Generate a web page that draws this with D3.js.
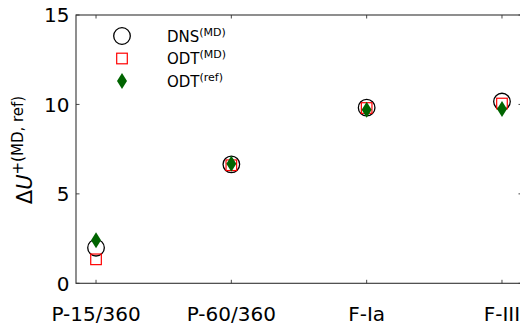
<!DOCTYPE html>
<html>
<head>
<meta charset="utf-8">
<script src="https://cdn.jsdelivr.net/npm/d3@7"></script>
<style>
  body { margin: 0; background: #fff; }
  text { font-family: 'DejaVu Sans', sans-serif; fill: #000; }
</style>
</head>
<body>
<script>
// chart data
const categories = ['P-15/360', 'P-60/360', 'F-Ia', 'F-III']
const dnsMD = [1.99, 6.65, 9.82, 10.16]
const odtMD = [1.34, 6.6, 9.8, 10.05]
const odtRef = [2.4, 6.68, 9.7, 9.74]
const yTicks = [0, 5, 10, 15]

const width = 520
const height = 329
const x0 = 76, x1 = 522, y0 = 283.3, y1 = 15

const svg = d3.select('body').append('svg')
    .attr('width', width)
    .attr('height', height)

const x = d3.scalePoint()
    .domain(categories)
    .range([x0, x1])
    .padding(0.148)

const y = d3.scaleLinear()
    .domain([0, 15])
    .range([y0, y1])

// spines
svg.append('rect')
    .attr('x', x0).attr('y', y1)
    .attr('width', x1 - x0).attr('height', y0 - y1)
    .attr('fill', 'none')
    .attr('stroke', '#333')
    .attr('stroke-width', 1.1)

// ticks, all pointing in
const tl = 3.5
const g = svg.append('g').attr('stroke', '#333').attr('stroke-width', 0.9)
categories.forEach(c => {
    g.append('line').attr('x1', x(c)).attr('x2', x(c)).attr('y1', y0).attr('y2', y0 - tl)
    g.append('line').attr('x1', x(c)).attr('x2', x(c)).attr('y1', y1).attr('y2', y1 + tl)
})
yTicks.forEach(v => {
    g.append('line').attr('x1', x0).attr('x2', x0 + tl).attr('y1', y(v)).attr('y2', y(v))
    g.append('line').attr('x1', x1).attr('x2', x1 - tl).attr('y1', y(v)).attr('y2', y(v))
})

svg.append('g').selectAll('text')
    .data(yTicks)
    .join('text')
    .attr('x', x0 - 6.5)
    .attr('y', d => y(d))
    .attr('dy', '0.36em')
    .attr('text-anchor', 'end')
    .attr('font-size', 20)
    .text(d => d)

svg.append('g').selectAll('text')
    .data(categories)
    .join('text')
    .attr('x', d => x(d))
    .attr('y', 321)
    .attr('text-anchor', 'middle')
    .attr('font-size', 20)
    .text(d => d)

// y label
const ylab = svg.append('text')
    .attr('transform', 'translate(32,150) rotate(-90)')
    .attr('text-anchor', 'middle')
    .attr('font-size', 21)
ylab.append('tspan').text('Δ')
ylab.append('tspan').attr('font-style', 'italic').text('U')
ylab.append('tspan').attr('font-size', 15).attr('dy', -9).text('+(MD, ref)')

// markers
const symCircle = d3.symbol().type(d3.symbolCircle).size(Math.PI * 8.3 * 8.3)
const pts = svg.append('g')

pts.selectAll('.dns')
    .data(dnsMD)
    .join('path')
    .attr('class', 'dns')
    .attr('d', symCircle)
    .attr('transform', (d, i) => `translate(${x(categories[i])},${y(d)})`)
    .attr('fill', 'none')
    .attr('stroke', '#000')
    .attr('stroke-width', 1.3)

pts.selectAll('.odtmd')
    .data(odtMD)
    .join('rect')
    .attr('class', 'odtmd')
    .attr('x', (d, i) => x(categories[i]) - 5.3)
    .attr('y', d => y(d) - 5.3)
    .attr('width', 10.6)
    .attr('height', 10.6)
    .attr('fill', 'none')
    .attr('stroke', '#ff0000')
    .attr('stroke-width', 1.2)

const diamond = 'M0,-8L5,0L0,8L-5,0Z'
pts.selectAll('.odtref')
    .data(odtRef)
    .join('path')
    .attr('class', 'odtref')
    .attr('d', diamond)
    .attr('transform', (d, i) => `translate(${x(categories[i])},${y(d)})`)
    .attr('fill', '#006400')

// legend
const leg = svg.append('g')
const legItems = [
    { label: 'DNS', sup: '(MD)', y: 36 },
    { label: 'ODT', sup: '(MD)', y: 58.5 },
    { label: 'ODT', sup: '(ref)', y: 81 }
]
leg.append('path').attr('d', symCircle)
    .attr('transform', `translate(122,${legItems[0].y})`)
    .attr('fill', 'none').attr('stroke', '#000').attr('stroke-width', 1.3)
leg.append('rect')
    .attr('x', 122 - 5.3).attr('y', legItems[1].y - 5.3)
    .attr('width', 10.6).attr('height', 10.6)
    .attr('fill', 'none').attr('stroke', '#ff0000').attr('stroke-width', 1.2)
leg.append('path').attr('d', diamond)
    .attr('transform', `translate(122,${legItems[2].y})`)
    .attr('fill', '#006400')

legItems.forEach(it => {
    const t = leg.append('text')
        .attr('x', 167)
        .attr('y', it.y + 5.5)
        .attr('font-size', 15)
    t.append('tspan').text(it.label)
    t.append('tspan').attr('font-size', 11).attr('dy', -6).text(it.sup)
})
</script>
</body>
</html>
